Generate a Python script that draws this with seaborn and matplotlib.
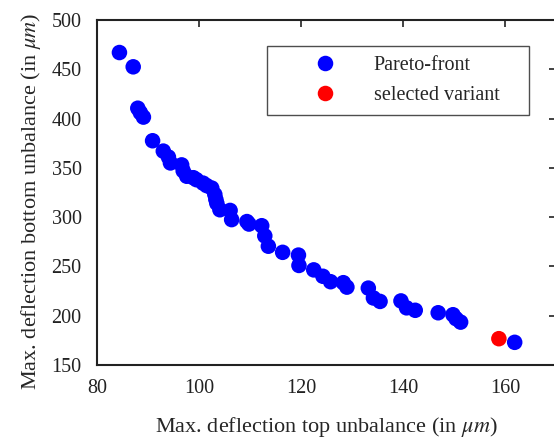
import matplotlib
matplotlib.use('Agg')
import matplotlib.pyplot as plt
import seaborn as sns
import pandas as pd

# Pareto-front points
pareto_x = [84.4, 87.1, 88.0, 88.5, 89.1, 90.9, 93.0, 94.0, 94.4, 96.6,
            96.9, 97.6, 98.9, 99.5, 100.8, 101.5, 102.5, 103.1, 103.3, 103.5,
            104.1, 106.1, 106.4, 109.4, 109.8, 112.3, 112.9, 113.6, 116.4, 119.5,
            119.6, 122.5, 124.3, 125.8, 128.3, 129.0, 133.2, 134.2, 135.5, 139.6,
            140.7, 142.4, 146.9, 149.8, 150.4, 151.3, 161.9]
pareto_y = [467, 452.5, 410.5, 406, 401.5, 377.5, 367, 361, 355, 353,
            347, 341.5, 340, 338, 334.5, 332, 329.5, 323, 318, 314,
            307.5, 306.8, 297.5, 295.5, 293, 291.3, 281, 270.5, 264.3, 261.5,
            251, 246.5, 240, 234.5, 233.5, 229, 228, 218, 214.5, 215,
            208, 205.5, 203, 201, 197, 193.5, 173]
selected_x = [158.8]
selected_y = [176.7]

labels = ['Pareto-front', 'selected variant']
colors = ['#0000ff', '#ff0000']

df = pd.DataFrame({
    'x': pareto_x + selected_x,
    'y': pareto_y + selected_y,
    'group': [labels[0]] * len(pareto_x) + [labels[1]] * len(selected_x),
})

sns.set_style('white')
plt.rcParams['font.family'] = ['Liberation Serif', 'DejaVu Serif']
plt.rcParams['mathtext.fontset'] = 'stix'

fig = plt.figure(figsize=(5.54, 4.40), dpi=100)
ax = fig.add_axes([97 / 554, 75 / 440, 459 / 554, 345 / 440])

sns.scatterplot(data=df, x='x', y='y', hue='group', palette=colors,
                s=125, linewidth=0, alpha=1, ax=ax, legend=True)

ax.set_xlim(80, 170)
ax.set_ylim(150, 500)
ax.set_xticks([80, 100, 120, 140, 160])
ax.set_yticks(range(150, 501, 50))
ax.set_xlabel(r'Max. deflection top unbalance (in $\mu m$)', fontsize=16, labelpad=12)
ax.set_ylabel(r'Max. deflection bottom unbalance (in $\mu m$)', fontsize=16, labelpad=6)
ax.yaxis.label.set_y(0.475)
ax.tick_params(direction='in', length=5, width=1.2, labelsize=14.5, colors='#222222',
               top=True, right=True)
ax.tick_params(axis='x', pad=10)
ax.tick_params(axis='y', pad=11)
for sp in ax.spines.values():
    sp.set_color('#222222')
    sp.set_linewidth(1.5)

handles, _ = ax.get_legend_handles_labels()
leg = ax.legend(handles, labels, loc='upper left',
                bbox_to_anchor=(267 / 554, 1 - 46 / 440 - 0.01, 262 / 554, 0.01),
                bbox_transform=fig.transFigure, mode='expand', borderaxespad=0,
                fontsize=14.5, frameon=True, fancybox=False, edgecolor='#222222',
                handletextpad=0.0, handlelength=4.8, labelspacing=0.55,
                borderpad=0.5, markerscale=1.0)
leg.get_frame().set_linewidth(1.0)

fig.savefig('out.png', dpi=100)
